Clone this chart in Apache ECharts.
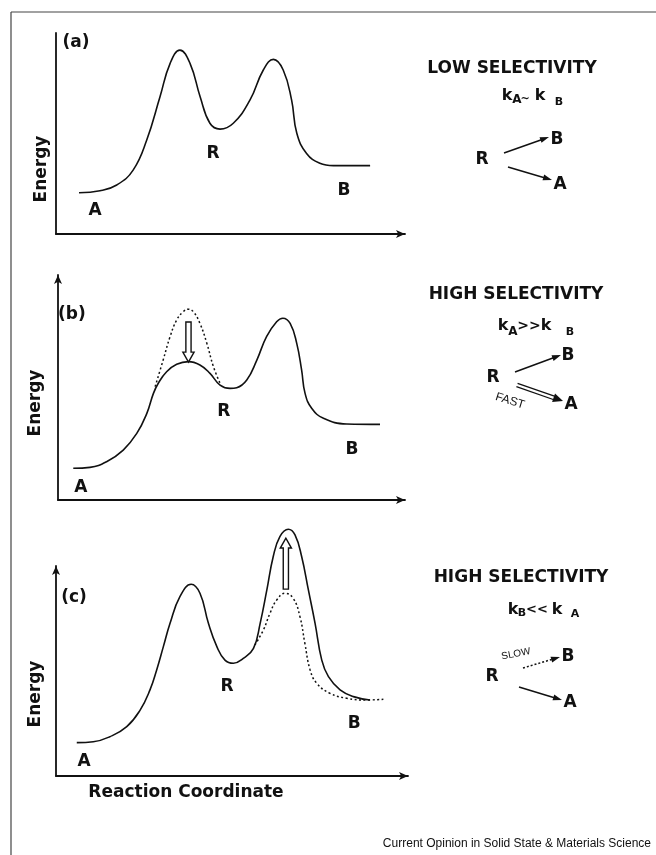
<!DOCTYPE html>
<html>
<head>
<meta charset="utf-8">
<script src="https://cdn.jsdelivr.net/npm/echarts@6/dist/echarts.min.js"></script>
<style>
html,body{margin:0;padding:0;background:#fff;}
#chart{width:656px;height:855px;}
</style>
</head>
<body>
<div id="chart"></div>
<script>
// ---- Data (reaction coordinate 0-100, energy 0-100 in each panel) ----
const curveA_x = [6.6, 12.6, 17.4, 22.1, 26.0, 29.8, 32.7, 35.5, 38.4, 41.3, 44.1, 47.0, 50.8, 55.6, 59.4, 62.3, 65.1, 67.5, 69.0, 71.8, 75.6, 79.5, 90.0];
const curveA_y = [20.5, 21.5, 24.4, 31.8, 46.8, 68.3, 84.9, 91.5, 84.9, 68.3, 55.1, 52.2, 55.1, 66.7, 81.6, 86.9, 81.6, 66.7, 50.1, 40.1, 35.2, 34.0, 34.0];

const curveB_x = [4.4, 9.2, 14.0, 18.8, 22.7, 25.6, 27.5, 28.9, 31.3, 34.2, 37.6, 40.9, 43.8, 46.7, 49.6, 51.5, 54.4, 57.3, 60.1, 63.0, 64.8, 66.9, 68.8, 70.2, 71.2, 73.1, 76.5, 83.2, 92.8];
const curveB_y = [14.1, 14.5, 17.0, 22.2, 29.6, 38.5, 47.4, 51.9, 57.0, 60.3, 61.5, 60.0, 56.3, 51.1, 49.6, 49.9, 53.3, 62.2, 72.6, 79.2, 80.8, 78.5, 69.6, 57.8, 47.4, 40.8, 36.3, 33.8, 33.6];
const dottedB_x = [28.0, 30.3, 32.3, 34.2, 36.1, 37.6, 39.0, 40.9, 42.9, 44.8, 46.7];
const dottedB_y = [50.4, 62.2, 72.6, 80.0, 83.7, 84.8, 83.7, 78.5, 69.6, 59.2, 51.9];

const curveC_x = [5.9, 10.6, 15.3, 20.1, 23.9, 26.7, 28.6, 30.5, 32.4, 35.2, 38.4, 40.9, 43.3, 45.7, 48.0, 50.4, 53.2, 56.1, 58.0, 59.9, 61.7, 63.6, 66.0, 67.9, 69.8, 71.7, 73.6, 75.5, 77.4, 80.7, 84.5, 89.2];
const curveC_y = [15.9, 16.3, 18.7, 23.5, 31.4, 41.0, 50.5, 61.6, 72.7, 85.4, 91.3, 87.0, 72.7, 61.6, 55.2, 53.7, 56.0, 60.8, 72.7, 88.6, 104.4, 114.0, 117.5, 114.8, 104.4, 88.6, 72.7, 55.2, 47.3, 41.0, 37.8, 36.2];
const dottedC_x = [56.5, 58.9, 60.8, 62.7, 65.1, 67.4, 69.3, 70.7, 72.2, 74.1, 77.8, 82.6, 88.3, 93.0];
const dottedC_y = [62.4, 69.5, 77.5, 83.8, 87.0, 84.6, 75.9, 63.2, 50.5, 44.1, 39.4, 37.0, 36.2, 36.5];

// hollow arrows: [x, energy from, energy tip]
const arrowB = [[37.6, 79.1, 61.3]];
const arrowC = [[65.3, 89.0, 113.3]];

// in-panel labels: [text, x, y]
const labelsA = [['(a)', 5.7, 95.0], ['A', 11.2, 11.9], ['R', 45.0, 39.8], ['B', 82.5, 21.4]];
const labelsB = [['(b)', 4.0, 82.2], ['A', 6.6, 5.3], ['R', 47.8, 39.1], ['B', 84.7, 22.2]];
const labelsC = [['(c)', 5.1, 85.2], ['A', 8.0, 7.1], ['R', 48.6, 42.4], ['B', 84.7, 25.2]];

const titles = ['LOW SELECTIVITY', 'HIGH SELECTIVITY', 'HIGH SELECTIVITY'];
const yAxisName = 'Energy';
const xAxisName = 'Reaction Coordinate';
const footer = 'Current Opinion in Solid State & Materials Science';

// ---- helpers ----
const zip = (xs, ys) => xs.map((x, i) => [x, ys[i]]);
const BOLD = "bold 17px 'DejaVu Sans'";
const INK = '#111';

function axisX(gi) {
  return { gridIndex: gi, type: 'value', min: 0, max: 100,
    axisLine: { show: true, onZero: false, symbol: ['none', 'arrow'], symbolSize: [6, 9], lineStyle: { color: INK, width: 1.8 } },
    axisTick: { show: false }, axisLabel: { show: false }, splitLine: { show: false } };
}
function axisY(gi, arrow) {
  return { gridIndex: gi, type: 'value', min: 0, max: 100,
    axisLine: { show: true, onZero: false, symbol: arrow ? ['none', 'arrow'] : 'none', symbolSize: [6, 9], lineStyle: { color: INK, width: 1.8 } },
    axisTick: { show: false }, axisLabel: { show: false }, splitLine: { show: false } };
}
function curve(gi, xs, ys, dotted) {
  return { type: 'line', xAxisIndex: gi, yAxisIndex: gi, data: zip(xs, ys), smooth: 0.45, symbol: 'none', clip: false,
    lineStyle: { color: INK, width: dotted ? 1.5 : 1.6, type: dotted ? [2, 2.5] : 'solid' }, z: dotted ? 3 : 4 };
}
function labels(gi, list) {
  return { type: 'custom', xAxisIndex: gi, yAxisIndex: gi, clip: false, z: 7,
    data: list.map(l => ({ name: l[0], value: [l[1], l[2]] })),
    encode: { x: 0, y: 1 },
    renderItem: function (params, api) {
      const p = api.coord([api.value(0), api.value(1)]);
      return { type: 'text', x: p[0], y: p[1],
        style: { text: list[params.dataIndex][0], font: BOLD, fill: INK, align: 'center', verticalAlign: 'middle' } };
    } };
}
function hollowArrow(gi, data) {
  return { type: 'custom', xAxisIndex: gi, yAxisIndex: gi, data: data, clip: false, z: 6,
    encode: { x: 0, y: [1, 2] },
    renderItem: function (params, api) {
      const p0 = api.coord([api.value(0), api.value(1)]);
      const p1 = api.coord([api.value(0), api.value(2)]);
      const dir = Math.sign(p1[1] - p0[1]);
      const x = p0[0], sw = 2.6, hw = 5.6, hl = 10;
      const yb = p1[1] - dir * hl;
      return { type: 'polygon',
        shape: { points: [[x - sw, p0[1]], [x + sw, p0[1]], [x + sw, yb], [x + hw, yb], [x, p1[1]], [x - hw, yb], [x - sw, yb]] },
        style: { fill: '#fff', stroke: INK, lineWidth: 1.4 } };
    } };
}
function txt(text, x, y, font, extra, align) {
  return Object.assign({ type: 'text', x: x, y: y, style: { text: text, font: font || BOLD, fill: INK, align: align || 'center', verticalAlign: 'middle' } }, extra || {});
}
function arrowG(x1, y1, x2, y2, opt) {
  opt = opt || {};
  const dx = x2 - x1, dy = y2 - y1, L = Math.hypot(dx, dy);
  const ux = dx / L, uy = dy / L, nx = -uy, ny = ux;
  const hl = opt.hl || 9, hw = opt.hw || 3;
  const bx = x2 - ux * hl, by = y2 - uy * hl;
  const out = [];
  const offs = opt.double ? [-1.8, 1.8] : [0];
  offs.forEach(o => {
    out.push({ type: 'line', shape: { x1: x1 + nx * o, y1: y1 + ny * o, x2: bx + nx * o + ux * 1, y2: by + ny * o + uy * 1 },
      style: { stroke: INK, lineWidth: opt.double ? 1.3 : 1.5, lineDash: opt.dash || null } });
  });
  out.push({ type: 'polygon', shape: { points: [[x2, y2], [bx + nx * hw, by + ny * hw], [bx - nx * hw, by - ny * hw]] }, style: { fill: INK } });
  return out;
}

const chart = echarts.init(document.getElementById('chart'), null, { renderer: 'canvas' });

const graphic = [
  { type: 'line', shape: { x1: 11, y1: 12, x2: 656, y2: 12 }, style: { stroke: '#444', lineWidth: 1.2 } },
  { type: 'line', shape: { x1: 11, y1: 12, x2: 11, y2: 855 }, style: { stroke: '#444', lineWidth: 1.2 } },
  txt(yAxisName, 42, 169, null, { rotation: Math.PI / 2 }),
  txt(yAxisName, 36, 403, null, { rotation: Math.PI / 2 }),
  txt(yAxisName, 36, 694, null, { rotation: Math.PI / 2 }),
  txt(xAxisName, 186, 793),
  txt(footer, 651, 844, "12px 'Liberation Sans'", null, 'right'),
  // panel a right side
  txt(titles[0], 512, 69),
  txt('k', 507, 96, "bold 16px 'DejaVu Sans'"),
  txt('A', 517, 100, "bold 12px 'DejaVu Sans'"),
  txt('~', 525, 99, "bold 11px 'DejaVu Sans'"),
  txt('k', 540, 96, "bold 16px 'DejaVu Sans'"),
  txt('B', 559, 102, "bold 11px 'DejaVu Sans'"),
  txt('R', 482, 160),
  txt('B', 557, 140),
  txt('A', 560, 185),
  ...arrowG(504, 153, 549, 137),
  ...arrowG(508, 167, 552, 180),
  // panel b right side
  txt(titles[1], 516, 295),
  txt('k', 503, 326, "bold 16px 'DejaVu Sans'"),
  txt('A', 513, 332, "bold 12px 'DejaVu Sans'"),
  txt('>>', 529, 326, "bold 14px 'DejaVu Sans'"),
  txt('k', 546, 326, "bold 16px 'DejaVu Sans'"),
  txt('B', 570, 332, "bold 11px 'DejaVu Sans'"),
  txt('R', 493, 378),
  txt('B', 568, 356),
  txt('A', 571, 405),
  ...arrowG(515, 372, 561, 355),
  ...arrowG(517, 385, 563, 401, { double: true, hw: 4.5, hl: 10 }),
  txt('FAST', 510, 401, "12px 'Liberation Sans'", { rotation: -0.3 }),
  // panel c right side
  txt(titles[2], 521, 578),
  txt('k', 513, 610, "bold 16px 'DejaVu Sans'"),
  txt('B', 522, 613, "bold 11px 'DejaVu Sans'"),
  txt('<<', 537, 610, "bold 13px 'DejaVu Sans'"),
  txt('k', 557, 610, "bold 16px 'DejaVu Sans'"),
  txt('A', 575, 614, "bold 11px 'DejaVu Sans'"),
  txt('R', 492, 677),
  txt('B', 568, 657),
  txt('A', 570, 703),
  txt('SLOW', 516, 654, "10px 'Liberation Sans'", { rotation: 0.2 }),
  ...arrowG(523, 668, 560, 657, { dash: [2, 2] }),
  ...arrowG(519, 687, 562, 700)
];

chart.setOption({
  animation: false,
  backgroundColor: '#fff',
  grid: [
    { left: 56, top: 33, width: 349, height: 201, containLabel: false },
    { left: 58, top: 275, width: 347, height: 225, containLabel: false },
    { left: 56, top: 566, width: 352, height: 210, containLabel: false }
  ],
  xAxis: [axisX(0), axisX(1), axisX(2)],
  yAxis: [axisY(0, false), axisY(1, true), axisY(2, true)],
  series: [
    curve(0, curveA_x, curveA_y, false),
    curve(1, curveB_x, curveB_y, false),
    curve(1, dottedB_x, dottedB_y, true),
    curve(2, curveC_x, curveC_y, false),
    curve(2, dottedC_x, dottedC_y, true),
    hollowArrow(1, arrowB),
    hollowArrow(2, arrowC),
    labels(0, labelsA),
    labels(1, labelsB),
    labels(2, labelsC)
  ],
  graphic: graphic
});
</script>
</body>
</html>
